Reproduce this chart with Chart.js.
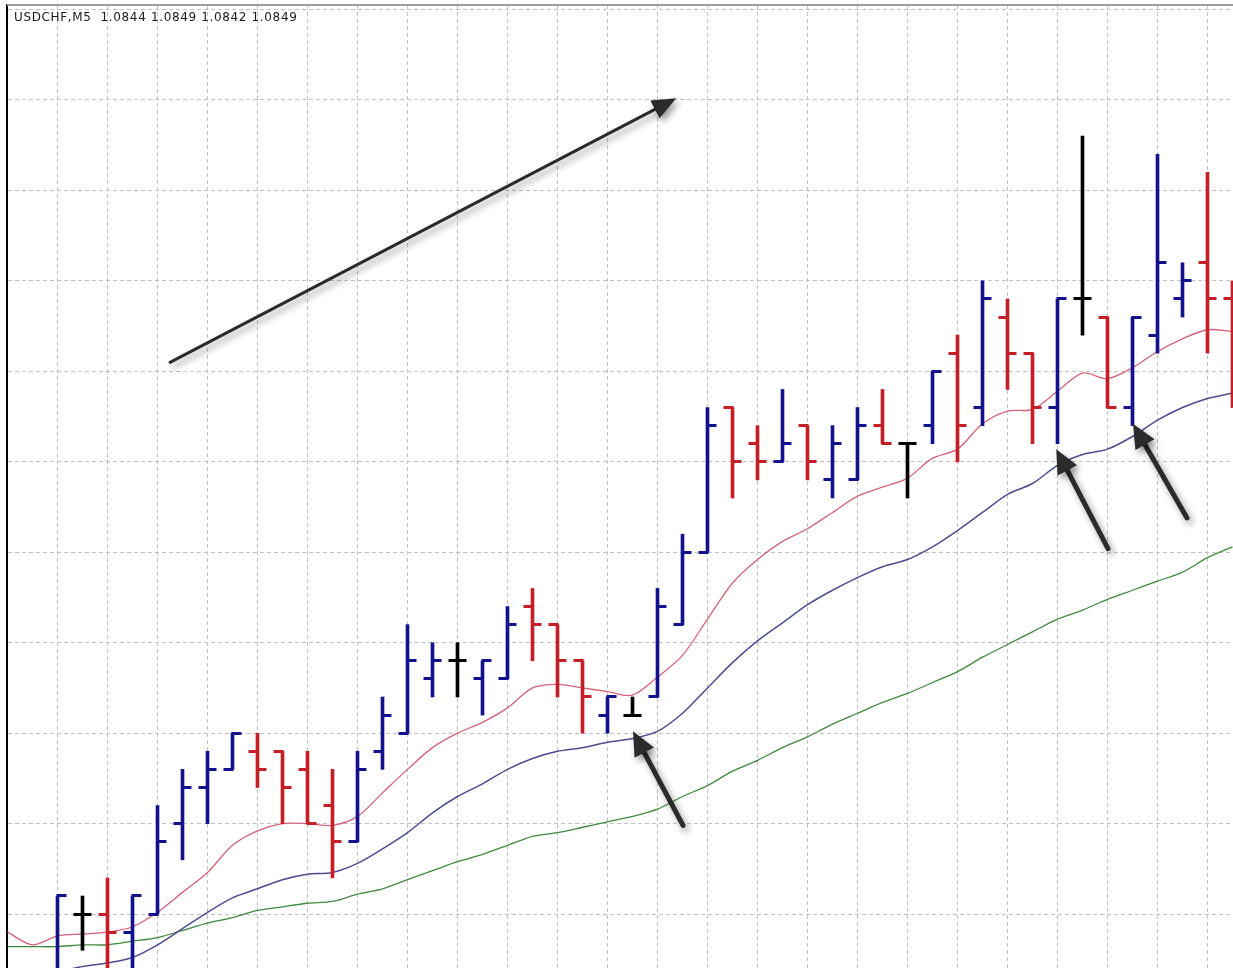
<!DOCTYPE html>
<html>
<head>
<meta charset="utf-8">
<script src="https://cdn.jsdelivr.net/npm/chart.js@4.4.1/dist/chart.umd.min.js"></script>
<style>
html,body{margin:0;padding:0;background:#fff;overflow:hidden}
#wrap{position:relative;width:1233px;height:968px}
#title{position:absolute;left:14px;top:10px;font:12px "DejaVu Sans",sans-serif;letter-spacing:0.65px;color:#1a1a1a;white-space:nowrap}
canvas{display:block}
</style>
</head>
<body>
<div id="wrap">
<canvas id="c" width="1233" height="968"></canvas>
<div id="title">USDCHF,M5&nbsp; 1.0844 1.0849 1.0842 1.0849</div>
</div>
<script>
// ---- data (USDCHF M5 bars) ----
const barSlots = [0,1,2,3,4,5,6,7,8,9,10,11,12,13,14,15,16,17,18,19,20,21,22,23,24,25,26,27,28,29,30,31,32,33,34,35,36,37,38,39,40,41,42,43,44,45,46,47];
const opens  = [1.0796,1.0800,1.0800,1.0799,1.0800,1.0805,1.0807,1.0808,1.0809,1.0809,1.0808,1.0806,1.0804,1.0809,1.0810,1.0813,1.0814,1.0813,1.0813,1.0817,1.0816,1.0814,1.0811,1.0811,1.0812,1.0816,1.0820,1.0828,1.0826,1.0825,1.0827,1.0824,1.0824,1.0827,1.0826,1.0827,1.0831,1.0828,1.0833,1.0831,1.0828,1.0834,1.0833,1.0828,1.0832,1.0834,1.0836,1.0834];
const highs  = [1.0801,1.0801,1.0802,1.0801,1.0806,1.0808,1.0809,1.0810,1.0810,1.0809,1.0809,1.0808,1.0809,1.0812,1.0816,1.0815,1.0815,1.0814,1.0817,1.0818,1.0816,1.0814,1.0812,1.0812,1.0818,1.0821,1.0828,1.0828,1.0827,1.0829,1.0827,1.0827,1.0828,1.0829,1.0826,1.0830,1.0832,1.0835,1.0834,1.0831,1.0834,1.0843,1.0833,1.0833,1.0842,1.0836,1.0841,1.0835];
const lows   = [1.0795,1.0798,1.0796,1.0796,1.0800,1.0803,1.0805,1.0808,1.0807,1.0805,1.0805,1.0802,1.0804,1.0808,1.0810,1.0812,1.0812,1.0811,1.0813,1.0814,1.0812,1.0810,1.0810,1.0811,1.0812,1.0816,1.0820,1.0823,1.0824,1.0825,1.0824,1.0823,1.0824,1.0826,1.0823,1.0826,1.0825,1.0827,1.0829,1.0826,1.0826,1.0832,1.0828,1.0827,1.0831,1.0833,1.0831,1.0828];
const closes = [1.0801,1.0800,1.0799,1.0801,1.0804,1.0807,1.0808,1.0810,1.0808,1.0807,1.0805,1.0804,1.0808,1.0811,1.0814,1.0814,1.0814,1.0814,1.0816,1.0816,1.0814,1.0812,1.0812,1.0811,1.0817,1.0820,1.0827,1.0825,1.0825,1.0826,1.0825,1.0826,1.0827,1.0826,1.0826,1.0830,1.0827,1.0834,1.0831,1.0828,1.0834,1.0834,1.0828,1.0833,1.0836,1.0835,1.0834,1.0832];

// moving averages, one value per bar slot starting two slots left of the first bar
const maSlots = [-2,-1,0,1,2,3,4,5,6,7,8,9,10,11,12,13,14,15,16,17,18,19,20,21,22,23,24,25,26,27,28,29,30,31,32,33,34,35,36,37,38,39,40,41,42,43,44,45,46,47];
const maFast = [1.07990,1.07983,1.07988,1.07989,1.07990,1.07993,1.08001,1.08012,1.08023,1.08038,1.08046,1.08050,1.08050,1.08049,1.08054,1.08067,1.08080,1.08092,1.08100,1.08106,1.08114,1.08125,1.08127,1.08125,1.08123,1.08121,1.08131,1.08143,1.08163,1.08183,1.08196,1.08206,1.08213,1.08222,1.08231,1.08236,1.08241,1.08252,1.08257,1.08271,1.08278,1.08279,1.08289,1.08299,1.08296,1.08302,1.08311,1.08318,1.08323,1.08322];
const maMid  = [1.07961,1.07965,1.07968,1.07971,1.07973,1.07976,1.07983,1.07992,1.08001,1.08009,1.08014,1.08019,1.08022,1.08023,1.08028,1.08036,1.08045,1.08056,1.08065,1.08072,1.08080,1.08086,1.08090,1.08092,1.08095,1.08097,1.08101,1.08111,1.08125,1.08139,1.08151,1.08161,1.08171,1.08179,1.08186,1.08192,1.08196,1.08203,1.08212,1.08222,1.08232,1.08238,1.08248,1.08254,1.08257,1.08264,1.08273,1.08280,1.08285,1.08288];
const maSlow = [1.07982,1.07982,1.07982,1.07983,1.07983,1.07985,1.07987,1.07991,1.07995,1.07998,1.08002,1.08004,1.08006,1.08007,1.08011,1.08014,1.08019,1.08024,1.08029,1.08033,1.08038,1.08043,1.08045,1.08048,1.08051,1.08054,1.08058,1.08065,1.08071,1.08079,1.08085,1.08092,1.08098,1.08105,1.08111,1.08117,1.08122,1.08128,1.08134,1.08142,1.08149,1.08156,1.08163,1.08168,1.08174,1.08179,1.08184,1.08189,1.08197,1.08203];

// price grid levels and visible window
const priceLevels = [1.0800,1.0805,1.0810,1.0815,1.0820,1.0825,1.0830,1.0835,1.0840,1.0845,1.0850];
const timeGrid = [0,2,4,6,8,10,12,14,16,18,20,22,24,26,28,30,32,34,36,38,40,42,44,46];
const viewX = [-2.02, 47.02];
const viewY = [1.079702, 1.085025];

// hand-drawn annotation arrows: [slot, price] tail -> tip
const arrowTails = [[4.5,1.08305],[25.02,1.08049],[42.02,1.08202],[45.18,1.08219]];
const arrowTips  = [[24.75,1.08451],[23.02,1.08101],[39.95,1.08257],[43.02,1.08271]];

// ---- styles ----
const UP='#12128c', DOWN='#c41f26', FLAT='#000000';
const colorOf = i => closes[i] > opens[i] ? UP : (closes[i] < opens[i] ? DOWN : FLAT);

function tickImg(color, side){
  const c=document.createElement('canvas'); c.width=20; c.height=3;
  const g=c.getContext('2d'); g.fillStyle=color;
  if(side==='open') g.fillRect(1,0,10,3); else g.fillRect(9,0,10,3);
  return c;
}
const tickImgs = {};
[UP,DOWN,FLAT].forEach(c=>{tickImgs[c+'open']=tickImg(c,'open');tickImgs[c+'close']=tickImg(c,'close');});

const barData = barSlots.map((s,i)=>({x:s,y:[lows[i],highs[i]]}));
const openData = barSlots.map((s,i)=>({x:s,y:opens[i]}));
const closeData = barSlots.map((s,i)=>({x:s,y:closes[i]}));
const mk = arr => maSlots.map((s,i)=>({x:s,y:arr[i]}));

const frame = {
  id:'frame',
  afterDraw(chart){
    const {ctx, chartArea:a} = chart;
    ctx.save(); ctx.strokeStyle='#9c9c9c'; ctx.lineWidth=2;
    ctx.beginPath(); ctx.moveTo(a.left, a.top); ctx.lineTo(a.right, a.top); ctx.stroke();
    ctx.restore();
  }
};

const arrowPlugin = {
  id:'arrows',
  afterDraw(chart){
    const {ctx} = chart; const xs=chart.scales.x, ys=chart.scales.y;
    ctx.save();
    arrowTails.forEach((t,i)=>{
      const big = i===0;
      const x0=xs.getPixelForValue(t[0]), y0=ys.getPixelForValue(t[1]);
      const x1=xs.getPixelForValue(arrowTips[i][0]), y1=ys.getPixelForValue(arrowTips[i][1]);
      const ang=Math.atan2(y1-y0,x1-x0);
      const hl = 24, hw = big?10:11, lw = big?3:5;
      ctx.shadowColor='rgba(0,0,0,0.4)'; ctx.shadowBlur=7; ctx.shadowOffsetX=3; ctx.shadowOffsetY=4;
      ctx.strokeStyle='#2b2b2b'; ctx.fillStyle='#2b2b2b'; ctx.lineWidth=lw; ctx.lineCap='round';
      const bx=x1-Math.cos(ang)*hl*0.8, by=y1-Math.sin(ang)*hl*0.8;
      ctx.beginPath(); ctx.moveTo(x0,y0); ctx.lineTo(bx,by); ctx.stroke();
      const hx=x1-Math.cos(ang)*hl, hy=y1-Math.sin(ang)*hl;
      ctx.beginPath(); ctx.moveTo(x1,y1);
      ctx.lineTo(hx+Math.sin(ang)*hw, hy-Math.cos(ang)*hw);
      ctx.lineTo(hx-Math.sin(ang)*hw, hy+Math.cos(ang)*hw);
      ctx.closePath(); ctx.fill();
    });
    ctx.restore();
  }
};

new Chart(document.getElementById('c'), {
  type:'bar',
  data:{
    datasets:[
      {type:'scatter', data:openData, order:0, showLine:false, pointRadius:5,
       pointStyle:c=>tickImgs[colorOf(c.dataIndex)+'open']},
      {type:'scatter', data:closeData, order:0, showLine:false, pointRadius:5,
       pointStyle:c=>tickImgs[colorOf(c.dataIndex)+'close']},
      {type:'bar', data:barData, order:1, barThickness:3, borderWidth:0, grouped:false,
       backgroundColor:barSlots.map((s,i)=>colorOf(i))},
      {type:'line', data:mk(maFast), order:2, borderColor:'#d4637a', borderWidth:1.3, pointRadius:0, tension:0.3},
      {type:'line', data:mk(maMid), order:2, borderColor:'#4d4d8f', borderWidth:1.5, pointRadius:0, tension:0.3},
      {type:'line', data:mk(maSlow), order:2, borderColor:'#3f8a3f', borderWidth:1.3, pointRadius:0, tension:0.3}
    ]
  },
  options:{
    responsive:false, animation:false, events:[], devicePixelRatio:1,
    layout:{autoPadding:false, padding:{left:7, top:5, right:0, bottom:0}},
    plugins:{legend:{display:false}, tooltip:{enabled:false}, title:{display:false}},
    scales:{
      x:{type:'linear', min:viewX[0], max:viewX[1], offset:false,
         ticks:{display:false}, afterBuildTicks:s=>{s.ticks=timeGrid.map(v=>({value:v}));},
         afterFit:s=>{s.height=0; s.paddingLeft=0; s.paddingRight=0;},
         grid:{color:'#c2c2c2', lineWidth:1, drawTicks:false, offset:false},
         border:{display:false, dash:[4,3]}},
      y:{type:'linear', min:viewY[0], max:viewY[1],
         ticks:{display:false}, afterBuildTicks:s=>{s.ticks=priceLevels.map(v=>({value:v}));},
         afterFit:s=>{s.width=0; s.paddingTop=0; s.paddingBottom=0;},
         grid:{color:'#c2c2c2', lineWidth:1, drawTicks:false},
         border:{display:true, color:'#000', width:2, dash:[4,3]}}
    }
  },
  plugins:[frame, arrowPlugin]
});
</script>
</body>
</html>
